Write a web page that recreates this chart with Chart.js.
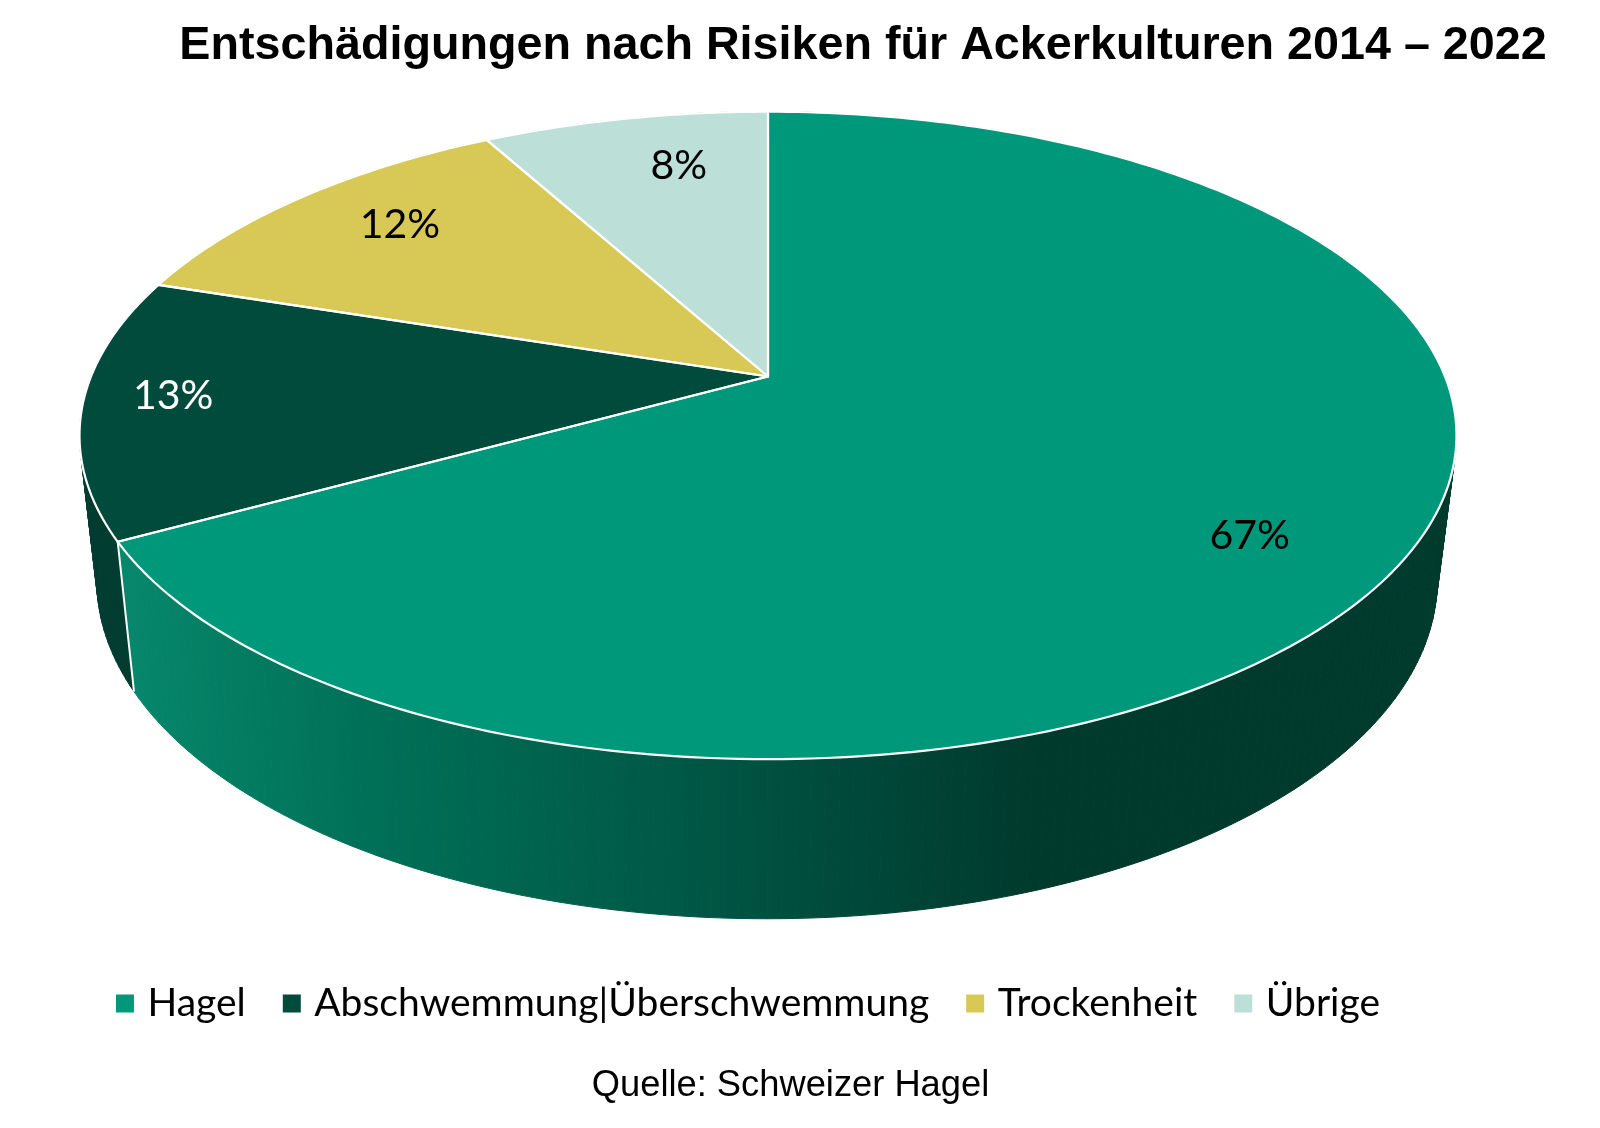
<!DOCTYPE html>
<html lang="de">
<head>
<meta charset="utf-8">
<title>Entschädigungen nach Risiken</title>
<script src="https://cdn.jsdelivr.net/npm/chart.js@4"></script>
<style>html,body{margin:0;padding:0;background:#fff}canvas{display:block}</style>
</head>
<body>
<canvas id="c" width="1600" height="1128"></canvas>
<script>
const titleText = 'Entschädigungen nach Risiken für Ackerkulturen 2014 – 2022';
const sourceText = 'Quelle: Schweizer Hagel';
const categories = ['Hagel', 'Abschwemmung|Überschwemmung', 'Trockenheit', 'Übrige'];
const shares = [67, 13, 12, 8];
const sliceColors = ['#00987a', '#004b3c', '#d8c855', '#bcdfd7'];
const labelColors = ['#000000', '#ffffff', '#000000', '#000000'];

// Perspective disc: unit circle -> screen, for the top face and for the lower rim
const topFace = {cx: 768, cy: 376.5, k: 677, m: 313, p: -0.182};
const lowerRim = {cx: 767, cy: 519, k: 659, m: 327, p: -0.182};
// Label anchor on the disc: radius and angular nudge (degrees)
const labelRadius = [0.80, 0.871, 0.80, 0.78];
const labelNudge = [4.9, 1.3, 2.2, 3.3];

const project = (f, r, a) => {
  const u = r * Math.cos(a), v = r * Math.sin(a), d = 1 + f.p * v;
  return {x: f.cx + f.k * u / d, y: f.cy + f.m * v / d};
};
const STEP = Math.PI / 180;
const steps = (a, b) => {
  const out = [];
  for (let t = a; t < b; t += STEP) out.push(t);
  out.push(b);
  return out;
};

const pie3d = {
  id: 'pie3d',
  afterLayout(chart) {
    const place = (box, centre, top) => {
      const w = box.right - box.left, h = box.bottom - box.top;
      box.left = centre - w / 2; box.right = centre + w / 2;
      box.top = top; box.bottom = top + h;
    };
    const sub = chart.boxes.find(b => b.position === 'bottom' && b !== chart.legend);
    place(chart.titleBlock, 863, 18);
    place(chart.legend, 751, 941);
    place(sub, 790.5, 1064);
  },
  beforeDatasetDraw(chart, args) {
    const ctx = chart.ctx;
    const arcs = chart.getDatasetMeta(args.index).data;
    const wallGrad = ctx.createLinearGradient(134, 0, 1030, 0);
    wallGrad.addColorStop(0, '#06866a');
    wallGrad.addColorStop(0.25, '#007158');
    wallGrad.addColorStop(0.55, '#005c49');
    wallGrad.addColorStop(0.8, '#00493a');
    wallGrad.addColorStop(1, '#003a2d');
    const walls = [wallGrad, '#013c30', '#013c30', '#013c30'];

    ctx.save();
    ctx.lineJoin = 'round';
    // side wall
    arcs.forEach((arc, i) => {
      const ts = steps(arc.startAngle, arc.endAngle);
      ctx.fillStyle = walls[i];
      ctx.strokeStyle = walls[i];
      ctx.lineWidth = 1;
      for (let n = 0; n < ts.length - 1; n++) {
        const a = project(topFace, 1, ts[n]), b = project(topFace, 1, ts[n + 1]);
        const c = project(lowerRim, 1, ts[n + 1]), d = project(lowerRim, 1, ts[n]);
        ctx.beginPath();
        ctx.moveTo(a.x, a.y); ctx.lineTo(b.x, b.y); ctx.lineTo(c.x, c.y); ctx.lineTo(d.x, d.y);
        ctx.closePath();
        ctx.fill();
        ctx.stroke();
      }
    });
    // seam between the two visible walls
    const seamA = project(topFace, 1, arcs[0].endAngle), seamB = project(lowerRim, 1, arcs[0].endAngle);
    ctx.strokeStyle = '#ffffff';
    ctx.lineWidth = 2;
    ctx.beginPath(); ctx.moveTo(seamA.x, seamA.y); ctx.lineTo(seamB.x, seamB.y); ctx.stroke();
    // top face
    arcs.forEach((arc, i) => {
      ctx.beginPath();
      ctx.moveTo(topFace.cx, topFace.cy);
      steps(arc.startAngle, arc.endAngle).forEach(t => {
        const q = project(topFace, 1, t);
        ctx.lineTo(q.x, q.y);
      });
      ctx.closePath();
      ctx.fillStyle = sliceColors[i];
      ctx.fill();
    });
    arcs.forEach(arc => {
      ctx.beginPath();
      ctx.moveTo(topFace.cx, topFace.cy);
      steps(arc.startAngle, arc.endAngle).forEach(t => {
        const q = project(topFace, 1, t);
        ctx.lineTo(q.x, q.y);
      });
      ctx.closePath();
      ctx.strokeStyle = '#ffffff';
      ctx.lineWidth = 2.2;
      ctx.stroke();
    });
    // value labels
    ctx.font = '41px Lato';
    ctx.textAlign = 'center';
    ctx.textBaseline = 'middle';
    arcs.forEach((arc, i) => {
      const mid = (arc.startAngle + arc.endAngle) / 2 + labelNudge[i] * STEP;
      const q = project(topFace, labelRadius[i], mid);
      ctx.fillStyle = labelColors[i];
      ctx.fillText(shares[i] + '%', q.x, q.y);
    });
    ctx.restore();
    return false;
  }
};

new Chart(document.getElementById('c'), {
  type: 'pie',
  data: {
    labels: categories,
    datasets: [{data: shares, backgroundColor: sliceColors, borderWidth: 0}]
  },
  plugins: [pie3d],
  options: {
    responsive: false,
    animation: false,
    events: [],
    rotation: 0,
    plugins: {
      title: {
        display: true, text: titleText, color: '#000',
        font: {family: '"Liberation Sans"', size: 46.7, weight: 'bold'}, padding: 0
      },
      subtitle: {
        display: true, position: 'bottom', text: sourceText, color: '#000',
        font: {family: '"Liberation Sans"', size: 36.3, weight: 'normal'}, padding: 0
      },
      legend: {
        display: true, position: 'bottom',
        labels: {
          usePointStyle: true, pointStyle: 'rect',
          boxWidth: 6, boxHeight: 18, padding: 43, color: '#000',
          font: {family: 'Lato', size: 39}
        }
      },
      tooltip: {enabled: false}
    }
  }
});
</script>
</body>
</html>
